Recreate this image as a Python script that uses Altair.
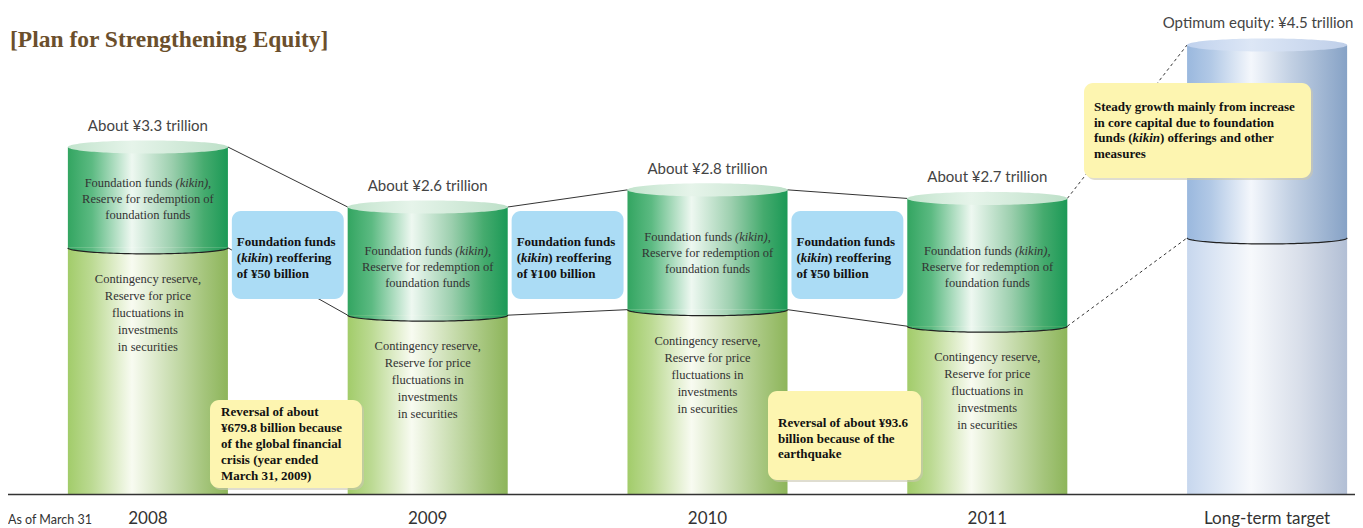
import math
import altair as alt
import pandas as pd

# ---------------- data ----------------
categories = ["2008", "2009", "2010", "2011", "Long-term target"]
total_equity = [3.3, 2.6, 2.8, 2.7, 4.5]            # trillion yen (cylinder tops)
reserve_part = [2.23, 1.62, 1.67, 1.52, 2.32]       # lower segment: contingency reserve etc.
total_labels = ["About ¥3.3 trillion", "About ¥2.6 trillion", "About ¥2.8 trillion",
                "About ¥2.7 trillion", "Optimum equity: ¥4.5 trillion"]
kinds = ["actual", "actual", "actual", "actual", "target"]
reoffer_amounts = ["of ¥50 billion", "of ¥100 billion", "of ¥50 billion"]

upper_line1 = "Foundation funds"
upper_line1_it = "(kikin),"
upper_rest = "Reserve for redemption of\nfoundation funds"
lower_text = "Contingency reserve,\nReserve for price\nfluctuations in\ninvestments\nin securities"
note_2009 = "Reversal of about\n¥679.8 billion because\nof the global financial\ncrisis (year ended\nMarch 31, 2009)"
note_2011 = "Reversal of about ¥93.6\nbillion because of the\nearthquake"
note_target = ["Steady growth mainly from increase", "in core capital due to foundation",
               "funds (", "kikin", ") offerings and other", "measures"]
title_text = "[Plan for Strengthening Equity]"
as_of_text = "As of March 31"

HALF = 0.286      # half cylinder width in category units
BOX_HALF = 0.2    # half width of the blue boxes

df = pd.DataFrame({"idx": list(range(5)), "cat": categories, "total": total_equity,
                   "reserve": reserve_part, "label": total_labels, "kind": kinds})
df["left"] = df["idx"] - HALF
df["right"] = df["idx"] + HALF
df["mid"] = (df["total"] + df["reserve"]) / 2
df["zero"] = 0.0

rows = []
for i in range(4):
    for col in ["total", "reserve"]:
        rows.append({"x": i + HALF, "x2": i + 1 - HALF, "y": float(df[col][i]), "y2": float(df[col][i + 1]),
                     "dashed": "yes" if i == 3 else "no"})
conn = pd.DataFrame(rows)

boxes = pd.DataFrame({"i": [0, 1, 2], "amount": reoffer_amounts})
boxes["bl"] = boxes["i"] + 0.5 - BOX_HALF
boxes["br"] = boxes["i"] + 0.5 + BOX_HALF

one = pd.DataFrame({"a": [0]})

# ---------------- scales ----------------
xs = alt.Scale(domain=[-0.5, 4.5], range=[0, 1399], nice=False, zero=False)
ys = alt.Scale(domain=[0, 2.6, 3.3, 4.5], range=[486, 199, 139, 37], nice=False, zero=False)


def X(f):
    return alt.X(f, type="quantitative", scale=xs, axis=None)


def Y(f):
    return alt.Y(f, type="quantitative", scale=ys, axis=None)


def grad(stops):
    return alt.Gradient(gradient="linear",
                        stops=[alt.GradientStop(color=c, offset=o) for o, c in stops],
                        x1=0, x2=1, y1=0, y2=0)


G_UP = grad([(0, "#33a561"), (0.15, "#5cba82"), (0.4, "#eef8f1"), (0.65, "#9ccfae"), (0.85, "#45ab6e"), (1, "#1b9956")])
G_LOW = grad([(0, "#a2cc6a"), (0.15, "#bcda93"), (0.4, "#f8fbf1"), (0.65, "#c9ddb0"), (0.85, "#a5c57c"), (1, "#8db55a")])
G_CAP = grad([(0, "#c2e4cd"), (0.4, "#e6f4ea"), (1, "#bde0c8")])
B_UP = grad([(0, "#9ab8de"), (0.15, "#b2c9e6"), (0.4, "#f4f7fc"), (0.65, "#c2d0e3"), (1, "#86a2c6")])
B_LOW = grad([(0, "#c7d7ee"), (0.4, "#f7f9fc"), (0.7, "#d9dfea"), (1, "#b2bfd5")])
B_CAP = grad([(0, "#bfd1ed"), (0.4, "#dde7f6"), (1, "#bfcfe9")])


def ellipse_path(k, half=False, closed=True, n=64):
    # unit ellipse (x in [-1, 1]) as a polygon path for a custom point shape
    m = n if half else 2 * n
    pts = []
    for j in range(m + 1):
        t = math.pi * j / n
        pts.append((-math.cos(t), k * math.sin(t)))
    d = "M " + " L ".join(f"{x:.4f} {y:.4f}" for x, y in pts)
    return d + (" Z" if closed else "")


CAP = ellipse_path(0.082)
HALFP = ellipse_path(0.075, half=True)
ARC = ellipse_path(0.075, half=True, closed=False)
SYM = 160 * 160

base = alt.Chart(df)
actual = base.transform_filter("datum.kind == 'actual'")
target = base.transform_filter("datum.kind == 'target'")

layers = []

# connector lines
layers.append(alt.Chart(conn).transform_filter("datum.dashed == 'no'").mark_rule(color="#333", strokeWidth=1)
              .encode(x=X("x"), x2="x2", y=Y("y"), y2="y2"))
layers.append(alt.Chart(conn).transform_filter("datum.dashed == 'yes'").mark_rule(color="#333", strokeWidth=1, strokeDash=[3, 3])
              .encode(x=X("x"), x2="x2", y=Y("y"), y2="y2"))

# cylinders
for sub, up, low, cap in [(actual, G_UP, G_LOW, G_CAP), (target, B_UP, B_LOW, B_CAP)]:
    layers.append(sub.mark_rect(color=low, strokeWidth=0).encode(x=X("left"), x2="right", y=Y("reserve"), y2="zero"))
    layers.append(sub.mark_rect(color=up, strokeWidth=0).encode(x=X("left"), x2="right", y=Y("total"), y2="reserve"))
    layers.append(sub.mark_point(shape=HALFP, size=SYM, filled=True, fill=up, opacity=1, strokeWidth=0)
                  .encode(x=X("idx"), y=Y("reserve")))
    layers.append(sub.mark_point(shape=ARC, size=SYM, filled=False, stroke="#222", opacity=1, strokeWidth=1.2)
                  .encode(x=X("idx"), y=Y("reserve")))
    layers.append(sub.mark_point(shape=CAP, size=SYM, filled=True, fill=cap, opacity=1, strokeWidth=0)
                  .encode(x=X("idx"), y=Y("total")))

# texts inside cylinders
SERIF = "Liberation Serif"
layers.append(actual.mark_text(text=upper_line1, font=SERIF, fontSize=12.5, color="#333", align="right",
                               baseline="middle", dx=24.6, dy=-10).encode(x=X("idx"), y=Y("mid")))
layers.append(actual.mark_text(text=upper_line1_it, font=SERIF, fontSize=12.5, fontStyle="italic", color="#333",
                               align="left", baseline="middle", dx=27.6, dy=-10).encode(x=X("idx"), y=Y("mid")))
layers.append(actual.mark_text(text=upper_rest, lineBreak="\n", lineHeight=16, font=SERIF, fontSize=12.5,
                               color="#333", align="center", baseline="middle", dy=6)
              .encode(x=X("idx"), y=Y("mid")))
layers.append(actual.mark_text(text=lower_text, lineBreak="\n", lineHeight=17, font=SERIF, fontSize=12.5,
                               color="#333", align="center", baseline="middle", dy=31)
              .encode(x=X("idx"), y=Y("reserve")))

# total labels
layers.append(actual.mark_text(font="Lato", fontSize=15, color="#444", baseline="middle", dy=-21)
              .encode(x=X("idx"), y=Y("total"), text="label"))
layers.append(target.mark_text(font="Lato", fontSize=15, color="#444", baseline="middle", dy=-22, dx=-9)
              .encode(x=X("idx"), y=Y("total"), text="label"))

# blue boxes
bb = alt.Chart(boxes)
layers.append(bb.mark_rect(color="#abdcf5", cornerRadius=9)
              .encode(x=X("bl"), x2="br", y=alt.value(203), y2=alt.value(291)))
BT = dict(font=SERIF, fontSize=13, fontWeight="bold", color="#111", align="left", baseline="middle")
layers.append(bb.mark_text(text="Foundation funds", dx=5, **BT).encode(x=X("bl"), y=alt.value(234)))
layers.append(bb.mark_text(text="(", dx=5, **BT).encode(x=X("bl"), y=alt.value(250)))
layers.append(bb.mark_text(text="kikin", dx=9.3, fontStyle="italic", **BT).encode(x=X("bl"), y=alt.value(250)))
layers.append(bb.mark_text(text=") reoffering", dx=36.6, **BT).encode(x=X("bl"), y=alt.value(250)))
layers.append(bb.mark_text(dx=5, **BT).encode(x=X("bl"), y=alt.value(266), text="amount:N"))

# yellow notes
YEL = "#fdf5b0"
oc = alt.Chart(one)
for (x1, x2, y1, y2) in [(202, 354, 392, 480), (760, 913, 383, 472), (1076, 1303, 75, 170)]:
    layers.append(oc.mark_rect(color="#c9c6b0", opacity=0.6, cornerRadius=9)
                  .encode(x=alt.value(x1 + 2), x2=alt.value(x2 + 2), y=alt.value(y1 + 2), y2=alt.value(y2 + 2)))
    layers.append(oc.mark_rect(color=YEL, cornerRadius=9)
                  .encode(x=alt.value(x1), x2=alt.value(x2), y=alt.value(y1), y2=alt.value(y2)))
layers.append(oc.mark_text(text=note_2009, lineBreak="\n", lineHeight=16, **BT)
              .encode(x=alt.value(213), y=alt.value(404)))
layers.append(oc.mark_text(text=note_2011, lineBreak="\n", lineHeight=15.5, **BT)
              .encode(x=alt.value(770), y=alt.value(415)))
layers.append(oc.mark_text(text=note_target[0], **BT).encode(x=alt.value(1086), y=alt.value(99)))
layers.append(oc.mark_text(text=note_target[1], **BT).encode(x=alt.value(1086), y=alt.value(114.5)))
layers.append(oc.mark_text(text=note_target[2], **BT).encode(x=alt.value(1086), y=alt.value(130)))
layers.append(oc.mark_text(text=note_target[3], fontStyle="italic", **BT).encode(x=alt.value(1124.6), y=alt.value(130)))
layers.append(oc.mark_text(text=note_target[4], **BT).encode(x=alt.value(1152), y=alt.value(130)))
layers.append(oc.mark_text(text=note_target[5], **BT).encode(x=alt.value(1086), y=alt.value(146)))

# baseline and category labels
layers.append(oc.mark_rule(color="#333", strokeWidth=1.5)
              .encode(x=alt.value(0), x2=alt.value(1347), y=alt.value(486.5)))
layers.append(base.mark_text(font="Lato", fontSize=17, color="#333", baseline="alphabetic", dy=30)
              .encode(x=X("idx"), y=Y("zero"), text="cat:N"))
layers.append(oc.mark_text(text=as_of_text, font="Lato", fontSize=12.5, color="#333", align="left",
                           baseline="alphabetic").encode(x=alt.value(0), y=alt.value(516)))

# title
layers.append(oc.mark_text(text=title_text, font=SERIF, fontSize=23.5, fontWeight="bold", color="#6b4f2c",
                           align="left", baseline="alphabetic").encode(x=alt.value(2), y=alt.value(39)))

chart = alt.layer(*layers).properties(
    width=1347, height=486,
    padding={"left": 0, "right": 0, "top": 0, "bottom": 34},
    autosize=alt.AutoSizeParams(type="none"),
    background="white",
).configure_view(stroke=None)

chart.save("out.html", embed_options={"renderer": "svg", "actions": False})
